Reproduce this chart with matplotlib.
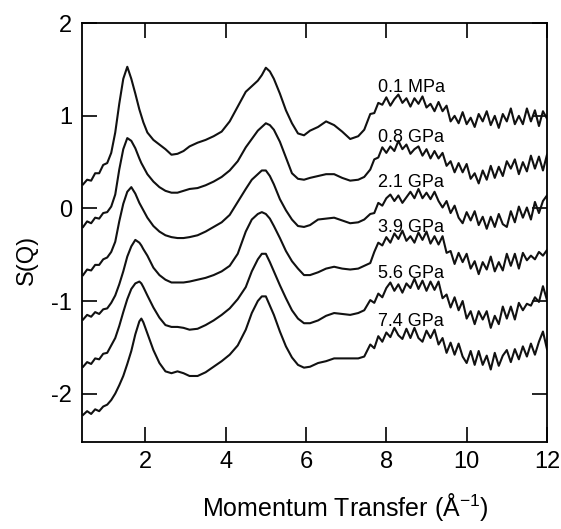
import matplotlib
matplotlib.use("Agg")
import matplotlib.pyplot as plt

plt.rcParams['font.family'] = ['Liberation Sans', 'DejaVu Sans']
plt.rcParams['axes.unicode_minus'] = False

# momentum transfer grid (1/Angstrom)
q = [0.45, 0.55, 0.65, 0.75, 0.85, 0.95, 1.05,
     1.15, 1.25, 1.35, 1.45, 1.55, 1.65, 1.75, 1.85, 1.9, 1.95,
     2.05, 2.2, 2.35, 2.5, 2.65, 2.8, 2.95, 3.1, 3.3, 3.5, 3.7, 3.9, 4.1, 4.3, 4.5,
     4.65, 4.8, 4.9, 5.0, 5.1, 5.2, 5.35, 5.5, 5.65, 5.8, 5.95, 6.1, 6.3, 6.5, 6.7,
     6.9, 7.1, 7.3, 7.45,
     7.6, 7.7, 7.8, 7.9, 8.0, 8.1, 8.2, 8.3, 8.4, 8.5, 8.6, 8.7, 8.8, 8.9, 9.0,
     9.1, 9.2, 9.3, 9.4, 9.5, 9.6, 9.7, 9.8, 9.9, 10.0, 10.1, 10.2, 10.3, 10.4, 10.5,
     10.6, 10.7, 10.8, 10.9, 11.0, 11.1, 11.2, 11.3, 11.4, 11.5, 11.6, 11.7, 11.8, 11.9, 12.0]

s_01mpa = [0.26, 0.31, 0.30, 0.38, 0.38, 0.47, 0.49,
           0.60, 0.82, 1.13, 1.40, 1.53, 1.40, 1.24, 1.07, 1.00, 0.93,
           0.82, 0.74, 0.69, 0.64, 0.58, 0.59, 0.62, 0.67, 0.71, 0.74, 0.78, 0.83, 0.94, 1.10, 1.26,
           1.32, 1.38, 1.44, 1.52, 1.48, 1.40, 1.24, 1.06, 0.92, 0.81, 0.79, 0.84, 0.88, 0.94, 0.90,
           0.83, 0.75, 0.78, 0.85,
           1.02, 1.03, 1.14, 1.12, 1.20, 1.11, 1.18, 1.23, 1.14, 1.19, 1.10, 1.19, 1.13, 1.21, 1.09,
           1.13, 1.05, 1.15, 1.05, 1.11, 0.94, 1.00, 0.92, 1.04, 0.91, 0.98, 0.88, 1.02, 0.94, 1.05,
           0.90, 1.00, 0.87, 1.02, 0.94, 1.08, 0.91, 1.00, 0.91, 1.08, 0.94, 1.06, 0.89, 1.05, 0.97]

s_08gpa = [-0.20, -0.14, -0.16, -0.10, -0.11, -0.05, -0.04,
           0.02, 0.15, 0.42, 0.64, 0.76, 0.73, 0.65, 0.54, 0.49, 0.45,
           0.37, 0.29, 0.23, 0.19, 0.17, 0.17, 0.19, 0.21, 0.22, 0.25, 0.29, 0.34, 0.41, 0.51, 0.66,
           0.75, 0.84, 0.88, 0.92, 0.90, 0.85, 0.72, 0.55, 0.38, 0.32, 0.31, 0.33, 0.35, 0.37, 0.37,
           0.33, 0.30, 0.31, 0.34,
           0.42, 0.53, 0.55, 0.66, 0.60, 0.67, 0.62, 0.73, 0.64, 0.69, 0.59, 0.64, 0.67, 0.57, 0.64,
           0.54, 0.62, 0.54, 0.60, 0.46, 0.51, 0.39, 0.49, 0.39, 0.48, 0.32, 0.38, 0.27, 0.41, 0.31,
           0.46, 0.33, 0.45, 0.35, 0.51, 0.43, 0.53, 0.37, 0.50, 0.40, 0.57, 0.43, 0.56, 0.41, 0.58]

s_21gpa = [-0.72, -0.66, -0.67, -0.61, -0.61, -0.55, -0.53,
           -0.47, -0.36, -0.14, 0.05, 0.18, 0.23, 0.16, 0.06, 0.02, -0.02,
           -0.10, -0.19, -0.25, -0.29, -0.31, -0.32, -0.32, -0.31, -0.29, -0.25, -0.20, -0.15, -0.07, 0.07, 0.21,
           0.31, 0.37, 0.41, 0.41, 0.35, 0.26, 0.10, -0.02, -0.12, -0.19, -0.20, -0.18, -0.12, -0.11, -0.10,
           -0.13, -0.16, -0.15, -0.12,
           -0.06, -0.05, 0.06, 0.03, 0.11, 0.15, 0.08, 0.14, 0.06, 0.12, 0.18, 0.11, 0.21, 0.11, 0.17,
           0.10, 0.18, 0.08, 0.01, 0.08, -0.05, 0.03, -0.10, -0.16, -0.04, -0.13, -0.03, -0.18, -0.09, -0.22,
           -0.09, -0.20, -0.06, -0.17, -0.20, -0.03, -0.15, 0.02, -0.10, 0.01, -0.12, 0.07, -0.05, 0.08, 0.14]

s_39gpa = [-1.20, -1.15, -1.17, -1.12, -1.14, -1.09, -1.08,
           -1.02, -0.94, -0.82, -0.68, -0.52, -0.41, -0.34, -0.37, -0.40, -0.44,
           -0.51, -0.64, -0.72, -0.77, -0.80, -0.80, -0.80, -0.79, -0.77, -0.75, -0.72, -0.68, -0.62, -0.49, -0.25,
           -0.12, -0.06, -0.04, -0.06, -0.11, -0.19, -0.32, -0.46, -0.57, -0.65, -0.72, -0.72, -0.69, -0.65, -0.63,
           -0.65, -0.66, -0.65, -0.62,
           -0.59, -0.47, -0.37, -0.40, -0.31, -0.37, -0.27, -0.33, -0.24, -0.35, -0.30, -0.37, -0.26, -0.34, -0.25,
           -0.38, -0.30, -0.39, -0.30, -0.48, -0.46, -0.60, -0.48, -0.58, -0.49, -0.65, -0.57, -0.71, -0.58, -0.66,
           -0.52, -0.68, -0.58, -0.67, -0.49, -0.62, -0.49, -0.65, -0.48, -0.56, -0.51, -0.55, -0.47, -0.51, -0.45]

s_56gpa = [-1.71, -1.66, -1.68, -1.62, -1.63, -1.57, -1.56,
           -1.48, -1.40, -1.27, -1.12, -0.98, -0.87, -0.81, -0.79, -0.81, -0.85,
           -0.94, -1.07, -1.18, -1.26, -1.28, -1.28, -1.29, -1.31, -1.30, -1.26, -1.21, -1.15, -1.08, -0.98, -0.85,
           -0.68, -0.55, -0.49, -0.49, -0.58, -0.68, -0.83, -0.97, -1.10, -1.19, -1.24, -1.24, -1.21, -1.16, -1.13,
           -1.14, -1.15, -1.13, -1.10,
           -0.99, -1.02, -0.92, -0.96, -0.86, -0.80, -0.89, -0.82, -0.91, -0.81, -0.86, -0.76, -0.87, -0.78, -0.89,
           -0.79, -0.88, -0.79, -0.97, -0.93, -1.07, -0.96, -1.10, -1.00, -1.19, -1.11, -1.25, -1.11, -1.20, -1.11,
           -1.29, -1.16, -1.25, -1.06, -1.19, -1.06, -1.20, -1.02, -1.10, -1.03, -1.05, -0.96, -1.01, -0.84, -0.99]

s_74gpa = [-2.23, -2.19, -2.22, -2.17, -2.19, -2.14, -2.12,
           -2.07, -2.00, -1.91, -1.81, -1.68, -1.54, -1.36, -1.22, -1.19, -1.23,
           -1.35, -1.53, -1.67, -1.76, -1.78, -1.76, -1.78, -1.81, -1.81, -1.77, -1.71, -1.65, -1.58, -1.48, -1.31,
           -1.13, -1.00, -0.95, -0.95, -1.05, -1.15, -1.33, -1.49, -1.61, -1.69, -1.72, -1.71, -1.67, -1.65, -1.62,
           -1.62, -1.62, -1.62, -1.60,
           -1.47, -1.51, -1.38, -1.44, -1.34, -1.39, -1.29, -1.37, -1.41, -1.30, -1.40, -1.29, -1.40, -1.44, -1.32,
           -1.40, -1.31, -1.47, -1.40, -1.56, -1.45, -1.58, -1.46, -1.60, -1.67, -1.54, -1.69, -1.54, -1.69, -1.59,
           -1.74, -1.56, -1.70, -1.59, -1.53, -1.66, -1.52, -1.63, -1.49, -1.60, -1.46, -1.58, -1.44, -1.33, -1.52]

curves = [s_01mpa, s_08gpa, s_21gpa, s_39gpa, s_56gpa, s_74gpa]
labels = ['0.1 MPa', '0.8 GPa', '2.1 GPa', '3.9 GPa', '5.6 GPa', '7.4 GPa']
label_y = [1.31, 0.77, 0.28, -0.21, -0.70, -1.22]

fig = plt.figure(figsize=(5.61, 5.29), dpi=100)
ax = fig.add_axes([0.146, 0.165, 0.829, 0.791])

for s in curves:
    ax.plot(q, s, color='#111111', lw=1.5)

for lab, y in zip(labels, label_y):
    ax.text(7.8, y, lab, fontsize=13, ha='left', va='center')

ax.set_xlim(0.42, 12)
ax.set_ylim(-2.52, 2)
ax.set_xticks([2, 4, 6, 8, 10, 12])
ax.set_yticks([-2, -1, 0, 1, 2])
ax.tick_params(direction='in', top=True, right=True, length=10.5, width=1.2,
               labelsize=17, pad=7)
for sp in ax.spines.values():
    sp.set_linewidth(1.3)

ax.set_xlabel('Momentum Transfer (Å$^{\\mathregular{-1}}$)', fontsize=18, va='center')
ax.xaxis.set_label_coords(0.566, -0.155)
ax.set_ylabel('S(Q)', fontsize=17, va='center')
ax.yaxis.set_label_coords(-0.118, 0.434)

fig.savefig('out.png', dpi=100)
